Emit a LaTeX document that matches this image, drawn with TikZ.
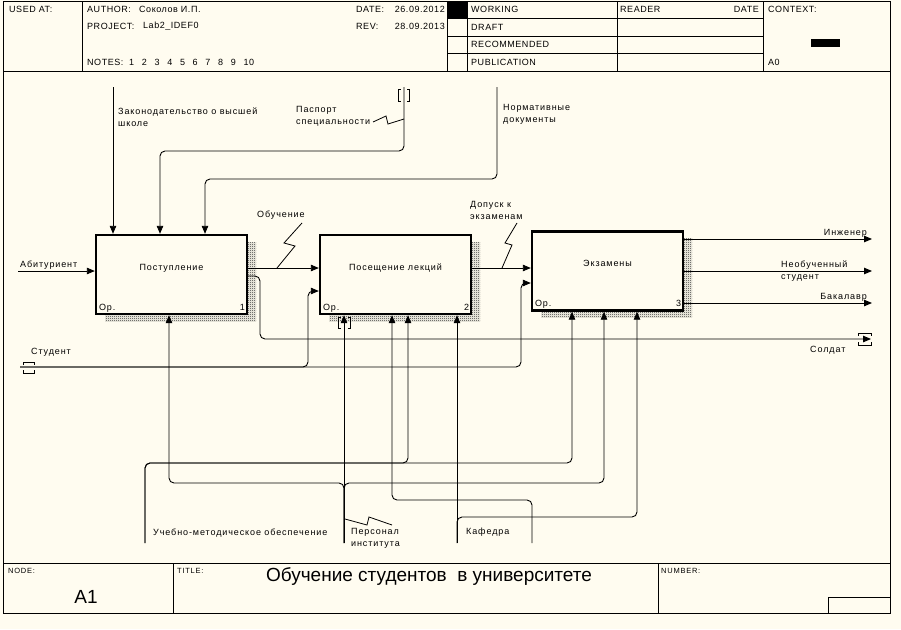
\documentclass[tikz,border=0pt]{standalone}
\usepackage{fontspec}
\setmainfont{Liberation Sans}
\newfontfamily\idef[LetterSpace=10]{Liberation Sans}
\newfontfamily\idefhdr[LetterSpace=6]{Liberation Sans}
\usepackage{tikz}
\usetikzlibrary{arrows.meta, patterns, shadows, positioning}
\definecolor{paper}{RGB}{255,252,240}
\pgfdeclarepatternformonly{dither}{\pgfpointorigin}{\pgfpoint{2pt}{2pt}}{\pgfpoint{2pt}{2pt}}{%
    \pgfpathrectangle{\pgfpointorigin}{\pgfpoint{1pt}{1pt}}%
    \pgfpathrectangle{\pgfpoint{1pt}{1pt}}{\pgfpoint{1pt}{1pt}}%
    \pgfusepath{fill}}
\tikzset{
    fnbox/.style={rectangle, draw=black, line width=2.4pt, fill=paper, minimum width=151pt, minimum height=79pt, inner sep=0pt, general shadow={shadow xshift=9pt, shadow yshift=-7pt, pattern=dither, pattern color=black!85}},
    arrow/.style={line width=0.9pt, rounded corners=5pt, -{Triangle[length=8pt,width=6.5pt]}},
    lbl/.style={font=\idef\fontsize{9}{12}\selectfont, inner sep=0pt, align=left},
    hdr/.style={font=\idefhdr\fontsize{9}{10}\selectfont, inner sep=0pt, anchor=west},
    smalllbl/.style={font=\idef\fontsize{7.5}{8}\selectfont, inner sep=0pt, anchor=west},
    squig/.style={line width=0.8pt},
    tunnel/.style={line width=0.9pt},
    formline/.style={line width=1pt}
}
\begin{document}
\begin{tikzpicture}[x=1pt,y=-1pt]
    \fill[paper] (0,0) rectangle (901,629);
    \useasboundingbox (0,0) rectangle (901,629);

    % form frame
    \draw[formline] (3.5,1) rectangle (890,613);
    \draw[formline] (3.5,71) -- (890,71);
    \draw[formline] (3.5,563) -- (890,563);
    \foreach \x in {82,447,467,617,763} \draw[formline] (\x,1) -- (\x,71);
    \foreach \y in {18,36,53} \draw[formline] (447,\y) -- (763,\y);
    \fill (447,1) rectangle (467,18);
    \foreach \x in {173,658} \draw[formline] (\x,563) -- (\x,613);
    \draw[formline] (828,597) rectangle (890,613);
    \fill (811,39) rectangle (840,46.5);

    % header
    \node[hdr] (usedat) at (9,9) {USED AT:};
    \node[hdr] (author) at (87,9) {AUTHOR:};
    \node[hdr] (authorv) at (139,9) {Соколов И.П.};
    \node[hdr] (project) at (87,26) {PROJECT:};
    \node[hdr] (projectv) at (143,26) {Lab2\_IDEF0};
    \node[hdr] (notes) at (87,62) {NOTES:};
    \foreach \n [count=\i] in {1,...,10}
        \node[hdr] (note\i) at (129+12.7*\i-12.7,62) {\n};
    \node[hdr] (date) at (356,9) {DATE:};
    \node[hdr, anchor=east] (datev) at (445,9) {26.09.2012};
    \node[hdr] (rev) at (356,26) {REV:};
    \node[hdr, anchor=east] (revv) at (445,26) {28.09.2013};
    \node[hdr] (working) at (471,9) {WORKING};
    \node[hdr] (draft) at (471,27) {DRAFT};
    \node[hdr] (recom) at (471,44) {RECOMMENDED};
    \node[hdr] (public) at (471,62) {PUBLICATION};
    \node[hdr] (reader) at (620,9) {READER};
    \node[hdr, anchor=east] (rdate) at (759,9) {DATE};
    \node[hdr] (context) at (768,9) {CONTEXT:};
    \node[hdr] (azero) at (768,62) {A0};

    % footer
    \node[smalllbl] (nodelbl) at (8,571) {NODE:};
    \node[smalllbl] (titlelbl) at (177,571) {TITLE:};
    \node[smalllbl] (numberlbl) at (661,571) {NUMBER:};
    \node[font=\fontsize{19}{21}\selectfont, inner sep=0pt] (nodeno) at (86,597) {A1};
    \node[font=\fontsize{19}{21}\selectfont, inner sep=0pt] (title) at (429,576) {Обучение студентов\ \ в университете};

    % function boxes
    \node[fnbox] (postup) at (171.5,274.5) {};
    \node[fnbox] (lekcii) at (395.5,274.5) {};
    \node[fnbox] (ekzam) at (607.5,271) {};
    \node[lbl] (tpostup) at ([yshift=6.5pt]postup.center) {Поступление};
    \node[lbl] (tlekcii) at ([yshift=6.5pt]lekcii.center) {Посещение лекций};
    \node[lbl] (tekzam) at ([yshift=8pt]ekzam.center) {Экзамены};
    \foreach \b/\k in {postup/1, lekcii/2, ekzam/3} {
        \node[lbl, anchor=base west] (op\k) at ([xshift=4pt,yshift=5pt]\b.south west) {Ор.};
        \node[lbl, anchor=base east] (no\k) at ([xshift=-3pt,yshift=5pt]\b.south east) {\k};
    }

    % free ends
    \coordinate (zakon) at (113,87);
    \coordinate (pasport) at (404,87);
    \coordinate (normdoc) at (497,87);
    \coordinate (abitur) at (18,271);
    \coordinate (student) at (20,367);
    \coordinate (soldat) at (871,339);
    \coordinate (inzh) at (872,239);
    \coordinate (neob) at (872,271);
    \coordinate (bakal) at (872,303);
    \coordinate (uchmet) at (145,543);
    \coordinate (personal) at (344,543);
    \coordinate (kafedra) at (457,543);
    \coordinate (mechfour) at (532,543);

    % ports
    \coordinate (p1o1) at ([yshift=6.5pt]postup.east);
    \coordinate (p1o2) at ([yshift=-1.5pt]postup.east);
    \coordinate (p2o1) at ([yshift=6.5pt]lekcii.east);
    \coordinate (p2i2) at ([yshift=-16.5pt]lekcii.west);
    \coordinate (p3i2) at ([yshift=-12pt]ekzam.west);
    \coordinate (p3o1) at ([yshift=32pt]ekzam.east);
    \coordinate (p3o3) at ([yshift=-32pt]ekzam.east);
    \coordinate (m1) at ([xshift=-2.5pt]postup.south);
    \coordinate (m2a) at ([xshift=-51.5pt]lekcii.south);
    \coordinate (m2b) at ([xshift=-3.5pt]lekcii.south);
    \coordinate (m2c) at ([xshift=12.5pt]lekcii.south);
    \coordinate (m2d) at ([xshift=61.5pt]lekcii.south);
    \coordinate (m3a) at ([xshift=-35.5pt]ekzam.south);
    \coordinate (m3b) at ([xshift=-3.5pt]ekzam.south);
    \coordinate (m3c) at ([xshift=29.5pt]ekzam.south);

    % controls
    \draw[arrow] (zakon) -- (zakon |- postup.north);
    \draw[arrow] (pasport) |- (160,151) -- ([xshift=-11.5pt]postup.north);
    \draw[arrow] (normdoc) |- (205,179) -- ([xshift=33.5pt]postup.north);

    % inputs and outputs
    \draw[arrow] (abitur) -- (abitur -| postup.west);
    \draw[arrow] (p1o1) -- (p1o1 -| lekcii.west);
    \draw[arrow] (p2o1) -- (p2o1 -| ekzam.west);
    \draw[arrow] (p1o2) -| (260,339) -- (soldat);
    \draw[arrow] (student) -- (308,367) |- (p2i2);
    \draw[arrow] (student) -- (521,367) |- (p3i2);
    \draw[arrow] (p3o1) -- (inzh);
    \draw[arrow] (ekzam.east) -- (neob);
    \draw[arrow] (p3o3) -- (bakal);

    % mechanisms
    \draw[arrow] (uchmet) |- (408,463) -- (m2c);
    \draw[arrow] (uchmet) |- (572,463) -- (m3a);
    \draw[arrow] (personal) -- (m2a);
    \draw[arrow] (personal) |- (169,483) -- (m1);
    \draw[arrow] (personal) |- (604,483) -- (m3b);
    \draw[arrow] (kafedra) -- (m2d);
    \draw[arrow] (kafedra) |- (637,517) -- (m3c);
    \draw[arrow] (mechfour) |- (392,500) -- (m2b);

    % tunnels
    \draw[tunnel] (401,89) -- (398.5,89) -- (398.5,101) -- (401,101);
    \draw[tunnel] (407,89) -- (409.5,89) -- (409.5,101) -- (407,101);
    \draw[tunnel] (340.5,317) -- (338,317) -- (338,328) -- (340.5,328);
    \draw[tunnel] (348,317) -- (350.5,317) -- (350.5,328) -- (348,328);
    \draw[tunnel] (23,365) -- (23,362) -- (34,362) -- (34,365);
    \draw[tunnel] (23,370) -- (23,373) -- (34,373) -- (34,370);
    \draw[tunnel] (858,336) -- (858,333) -- (871,333) -- (871,336);
    \draw[tunnel] (858,342) -- (858,345) -- (871,345) -- (871,342);

    % labels
    \node[lbl, anchor=west] (lzakon) at (118,117) {Законодательство о высшей\\школе};
    \node[lbl, anchor=west] (lpasport) at (296,116.5) {Паспорт\\специальности};
    \node[lbl, anchor=west] (lnormdoc) at (503,114) {Нормативные\\документы};
    \node[lbl, anchor=west] (labitur) at (20,265) {Абитуриент};
    \node[lbl, anchor=west] (lobuch) at (257,215) {Обучение};
    \node[lbl, anchor=west] (ldopusk) at (470,210) {Допуск к\\экзаменам};
    \node[lbl, anchor=east] (linzh) at (867,233) {Инженер};
    \node[lbl, anchor=west] (lneob) at (781,271) {Необученный\\студент};
    \node[lbl, anchor=east] (lbakal) at (867,297) {Бакалавр};
    \node[lbl, anchor=west] (lsoldat) at (810,350) {Солдат};
    \node[lbl, anchor=west] (lstudent) at (31,352) {Студент};
    \node[lbl, anchor=west] (luchmet) at (153,533) {Учебно-методическое обеспечение};
    \node[lbl, anchor=west] (lpersonal) at (351,538) {Персонал\\института};
    \node[lbl, anchor=west] (lkafedra) at (466,532) {Кафедра};

    % squiggles
    \draw[squig] (302,223) -- (284,243) -- (295,246) -- (277,268);
    \draw[squig] (517,223) -- (505,243) -- (512,245) -- (502,268);
    \draw[squig] (373,122) -- (386,116) -- (388,124) -- (404,119);
    \draw[squig] (345,519) -- (367,525) -- (369,517) -- (392,525);
\end{tikzpicture}
\end{document}
